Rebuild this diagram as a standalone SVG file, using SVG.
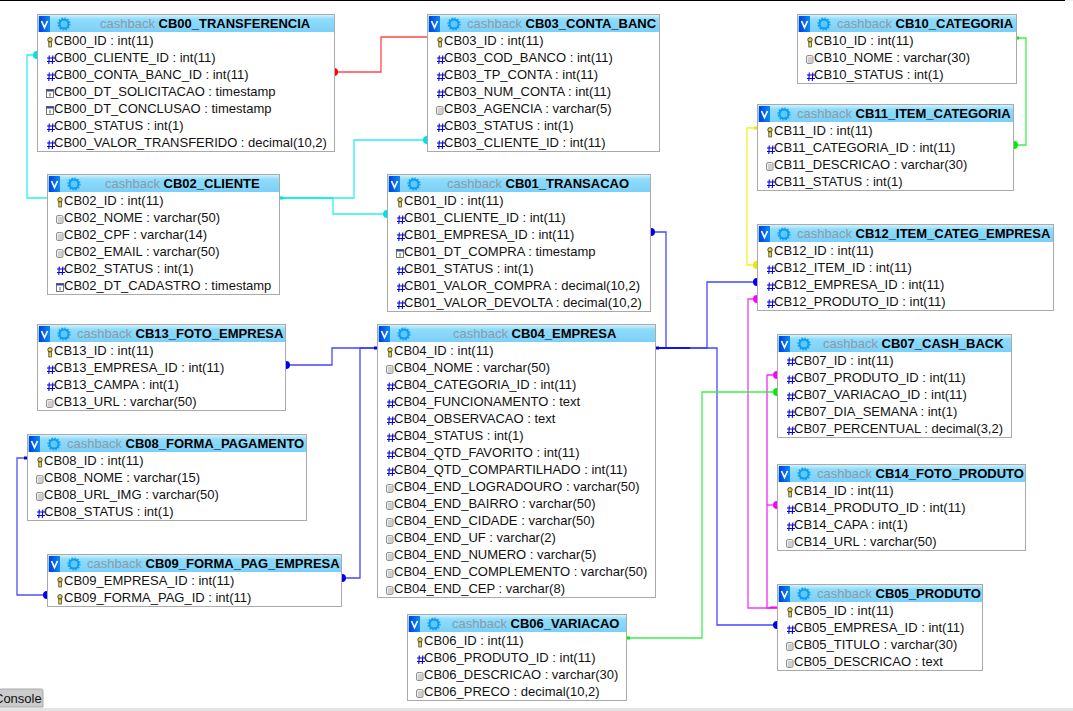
<svg xmlns="http://www.w3.org/2000/svg" xmlns:xlink="http://www.w3.org/1999/xlink" width="1073" height="711" viewBox="0 0 1073 711">
<style>
text{font-family:"Liberation Sans",Arial,sans-serif;font-size:13px;fill:#111}
.b{fill:#fff;stroke:#aaa;stroke-width:1}
.h{fill:url(#hg)}
.db{fill:#8d9aa5}
.tn{font-weight:bold;fill:#000}
.c{fill:none;stroke-width:1.3;opacity:.95}
</style>
<defs>
<linearGradient id="hg" x1="0" y1="0" x2="0" y2="1"><stop offset="0" stop-color="#d2f1fd"/><stop offset=".25" stop-color="#8fdcfb"/><stop offset="1" stop-color="#7bd0f8"/></linearGradient>
<linearGradient id="vg" x1="0" y1="0" x2="1" y2="0"><stop offset="0" stop-color="#0040e0"/><stop offset="1" stop-color="#0a8cf5"/></linearGradient>
<g id="v"><rect x="1" y="1" width="11" height="16" fill="url(#vg)"/><path d="M3.5 6l3 6.5 3-6.5" fill="none" stroke="#fff" stroke-width="1.7"/></g>
<g id="gear"><circle cx="26" cy="9" r="4.5" fill="#5cc8fb" stroke="#0a9cf0" stroke-width="2"/><circle cx="26" cy="9" r="6" fill="none" stroke="#0a9cf0" stroke-width="1.2" stroke-dasharray="1.6 1.5"/></g>
<g id="key"><circle cx="3" cy="2.8" r="2.2" fill="#e8d838" stroke="#333" stroke-width=".9"/><rect x="1.8" y="5" width="2.6" height="5" fill="#e8d838" stroke="#333" stroke-width=".7"/></g>
<g id="num"><path d="M2.3 0.5L1.8 9M5.8 0.5L5.3 9M0 3h8M0 6.5h8" fill="none" stroke="#0000e0" stroke-width="1.1"/></g>
<g id="str"><rect x=".5" y=".5" width="6.5" height="8" rx="1.5" fill="#eee" stroke="#777" stroke-width=".8"/><path d="M2 3h4M2 5h4M2 7h4" stroke="#888" stroke-width=".6"/></g>
<g id="dt"><rect x=".5" y=".5" width="7" height="8" fill="#fff" stroke="#555" stroke-width=".8"/><rect x=".5" y=".5" width="7" height="2" fill="#2a4a9a"/><path d="M4 4v3.5" stroke="#333" stroke-width=".8"/></g>
</defs>
<rect width="1073" height="711" fill="#fff"/>
<rect width="1065" height="1" fill="#000"/>
<rect x="1065" width="8" height="1" fill="#eee"/>
<g id="connectors">
<g class="c" stroke="#ff3030"><path class="c" stroke="#f33" d="M334 72H381V37H427"/></g>
<path class="c" stroke="#22eef0" d="M37 55H27V198H47"/>
<path class="c" stroke="#22eef0" d="M280 198H354V140H427"/>
<path class="c" stroke="#22eef0" d="M333 198V214H387"/>
<path class="c" stroke="#3c3cff" d="M286 365H332V348H377"/>
<path class="c" stroke="#3c3cff" d="M651 232H666V348H656"/>
<path class="c" stroke="#3c3cff" d="M656 348H707V282H757"/>
<path class="c" stroke="#3c3cff" d="M656 348H717V625H777"/>
<path class="c" stroke="#4848f0" d="M27 458H17V595H47"/>
<path class="c" stroke="#3c3cff" d="M342 578H360V348H377"/>
<path class="c" stroke="#f0f020" d="M757 128H747V265H757"/>
<path class="c" stroke="#30f040" d="M1016 38H1026V145H1014"/>
<path class="c" stroke="#f030f0" d="M757 299H748V608H777"/>
<path class="c" stroke="#f020f0" d="M777 375H767V608H777"/>
<path class="c" stroke="#f020f0" d="M777 505H767"/>
<path class="c" stroke="#30f040" d="M627 638H702V392H777"/>
<path d="M656 348H690" stroke="#00e" stroke-width="1.3"/>
<path d="M280 198H333" stroke="#0ee" stroke-width="1.3"/>
<g fill="#f00"><path d="M334 68a4 4 0 0 1 0 8z" /></g>
<g fill="#00e0e8"><path d="M427 136a4 4 0 0 0 0 8zM387 210a4 4 0 0 0 0 8zM37 51a4 4 0 0 0 0 8z"/><rect x="280" y="196.500" width="3" height="3"/></g>
<g fill="#00e"><path d="M651 228a4 4 0 0 1 0 8zM757 278a4 4 0 0 0 0 8zM777 621a4 4 0 0 0 0 8zM47 591a4 4 0 0 0 0 8zM286 361a4 4 0 0 1 0 8zM342 574a4 4 0 0 1 0 8z"/><rect x="656" y="346.500" width="3" height="3"/><rect x="377" y="346.500" width="-3" height="3"/><rect x="24" y="456.500" width="3" height="3"/><rect x="374" y="346.500" width="3" height="3"/></g>
<g fill="#e8e800"><path d="M757 261a4 4 0 0 0 0 8z"/><rect x="754" y="126.500" width="3" height="3"/></g>
<g fill="#0e0"><path d="M1014 141a4 4 0 0 1 0 8zM777 388a4 4 0 0 0 0 8z"/><rect x="1016" y="36.500" width="3" height="3"/><rect x="627" y="636.500" width="3" height="3"/></g>
<g fill="#f0f"><path d="M757 295a4 4 0 0 0 0 8zM777 371a4 4 0 0 0 0 8zM777 501a4 4 0 0 0 0 8z"/><rect x="770" y="606.500" width="7" height="1.500"/></g>
</g>

<g id="CB00"><rect class="b" x="37.500" y="14.500" width="297" height="137"/><rect class="h" x="38" y="15" width="296" height="17"/><use href="#v" x="38" y="15"/><use href="#gear" x="38" y="15"/><text x="100" y="28" class="db">cashback <tspan class="tn">CB00_TRANSFERENCIA</tspan></text>
<use href="#key" x="47" y="37"/><text x="54" y="45">CB00_ID : int(11)</text>
<use href="#num" x="47" y="55"/><text x="54" y="62">CB00_CLIENTE_ID : int(11)</text>
<use href="#num" x="47" y="72"/><text x="54" y="79">CB00_CONTA_BANC_ID : int(11)</text>
<use href="#dt" x="46" y="89"/><text x="54" y="96">CB00_DT_SOLICITACAO : timestamp</text>
<use href="#dt" x="46" y="106"/><text x="54" y="113">CB00_DT_CONCLUSAO : timestamp</text>
<use href="#num" x="47" y="123"/><text x="54" y="130">CB00_STATUS : int(1)</text>
<use href="#num" x="47" y="140"/><text x="54" y="147">CB00_VALOR_TRANSFERIDO : decimal(10,2)</text></g>

<g id="CB03"><rect class="b" x="427.500" y="14.500" width="232" height="137"/><rect class="h" x="428" y="15" width="231" height="17"/><use href="#v" x="428" y="15"/><use href="#gear" x="428" y="15"/><text x="467" y="28" class="db">cashback <tspan class="tn">CB03_CONTA_BANC</tspan></text>
<use href="#key" x="437" y="37"/><text x="444" y="45">CB03_ID : int(11)</text>
<use href="#num" x="437" y="55"/><text x="444" y="62">CB03_COD_BANCO : int(11)</text>
<use href="#num" x="437" y="72"/><text x="444" y="79">CB03_TP_CONTA : int(11)</text>
<use href="#num" x="437" y="89"/><text x="444" y="96">CB03_NUM_CONTA : int(11)</text>
<use href="#str" x="436" y="106"/><text x="444" y="113">CB03_AGENCIA : varchar(5)</text>
<use href="#num" x="437" y="123"/><text x="444" y="130">CB03_STATUS : int(1)</text>
<use href="#num" x="437" y="140"/><text x="444" y="147">CB03_CLIENTE_ID : int(11)</text></g>

<g id="CB10"><rect class="b" x="797.500" y="14.500" width="219" height="69"/><rect class="h" x="798" y="15" width="218" height="17"/><use href="#v" x="798" y="15"/><use href="#gear" x="798" y="15"/><text x="837" y="28" class="db">cashback <tspan class="tn">CB10_CATEGORIA</tspan></text>
<use href="#key" x="807" y="37"/><text x="814" y="45">CB10_ID : int(11)</text>
<use href="#str" x="806" y="55"/><text x="814" y="62">CB10_NOME : varchar(30)</text>
<use href="#num" x="807" y="72"/><text x="814" y="79">CB10_STATUS : int(1)</text></g>

<g id="CB11"><rect class="b" x="757.500" y="104.500" width="256" height="86"/><rect class="h" x="758" y="105" width="255" height="17"/><use href="#v" x="758" y="105"/><use href="#gear" x="758" y="105"/><text x="797" y="118" class="db">cashback <tspan class="tn">CB11_ITEM_CATEGORIA</tspan></text>
<use href="#key" x="767" y="127"/><text x="774" y="135">CB11_ID : int(11)</text>
<use href="#num" x="767" y="145"/><text x="774" y="152">CB11_CATEGORIA_ID : int(11)</text>
<use href="#str" x="766" y="162"/><text x="774" y="169">CB11_DESCRICAO : varchar(30)</text>
<use href="#num" x="767" y="179"/><text x="774" y="186">CB11_STATUS : int(1)</text></g>

<g id="CB02"><rect class="b" x="47.500" y="174.500" width="232" height="120"/><rect class="h" x="48" y="175" width="231" height="17"/><use href="#v" x="48" y="175"/><use href="#gear" x="48" y="175"/><text x="105" y="188" class="db">cashback <tspan class="tn">CB02_CLIENTE</tspan></text>
<use href="#key" x="57" y="197"/><text x="64" y="205">CB02_ID : int(11)</text>
<use href="#str" x="56" y="215"/><text x="64" y="222">CB02_NOME : varchar(50)</text>
<use href="#str" x="56" y="232"/><text x="64" y="239">CB02_CPF : varchar(14)</text>
<use href="#str" x="56" y="249"/><text x="64" y="256">CB02_EMAIL : varchar(50)</text>
<use href="#num" x="57" y="266"/><text x="64" y="273">CB02_STATUS : int(1)</text>
<use href="#dt" x="56" y="283"/><text x="64" y="290">CB02_DT_CADASTRO : timestamp</text></g>

<g id="CB01"><rect class="b" x="387.500" y="174.500" width="263" height="137"/><rect class="h" x="388" y="175" width="262" height="17"/><use href="#v" x="388" y="175"/><use href="#gear" x="388" y="175"/><text x="447" y="188" class="db">cashback <tspan class="tn">CB01_TRANSACAO</tspan></text>
<use href="#key" x="397" y="197"/><text x="404" y="205">CB01_ID : int(11)</text>
<use href="#num" x="397" y="215"/><text x="404" y="222">CB01_CLIENTE_ID : int(11)</text>
<use href="#num" x="397" y="232"/><text x="404" y="239">CB01_EMPRESA_ID : int(11)</text>
<use href="#dt" x="396" y="249"/><text x="404" y="256">CB01_DT_COMPRA : timestamp</text>
<use href="#num" x="397" y="266"/><text x="404" y="273">CB01_STATUS : int(1)</text>
<use href="#num" x="397" y="283"/><text x="404" y="290">CB01_VALOR_COMPRA : decimal(10,2)</text>
<use href="#num" x="397" y="300"/><text x="404" y="307">CB01_VALOR_DEVOLTA : decimal(10,2)</text></g>

<g id="CB12"><rect class="b" x="757.500" y="224.500" width="296" height="86"/><rect class="h" x="758" y="225" width="295" height="17"/><use href="#v" x="758" y="225"/><use href="#gear" x="758" y="225"/><text x="797" y="238" class="db">cashback <tspan class="tn">CB12_ITEM_CATEG_EMPRESA</tspan></text>
<use href="#key" x="767" y="247"/><text x="774" y="255">CB12_ID : int(11)</text>
<use href="#num" x="767" y="265"/><text x="774" y="272">CB12_ITEM_ID : int(11)</text>
<use href="#num" x="767" y="282"/><text x="774" y="289">CB12_EMPRESA_ID : int(11)</text>
<use href="#num" x="767" y="299"/><text x="774" y="306">CB12_PRODUTO_ID : int(11)</text></g>

<g id="CB13"><rect class="b" x="37.500" y="324.500" width="248" height="86"/><rect class="h" x="38" y="325" width="247" height="17"/><use href="#v" x="38" y="325"/><use href="#gear" x="38" y="325"/><text x="77" y="338" class="db">cashback <tspan class="tn">CB13_FOTO_EMPRESA</tspan></text>
<use href="#key" x="47" y="347"/><text x="54" y="355">CB13_ID : int(11)</text>
<use href="#num" x="47" y="365"/><text x="54" y="372">CB13_EMPRESA_ID : int(11)</text>
<use href="#num" x="47" y="382"/><text x="54" y="389">CB13_CAMPA : int(1)</text>
<use href="#str" x="46" y="399"/><text x="54" y="406">CB13_URL : varchar(50)</text></g>

<g id="CB04"><rect class="b" x="377.500" y="324.500" width="278" height="273"/><rect class="h" x="378" y="325" width="277" height="17"/><use href="#v" x="378" y="325"/><use href="#gear" x="378" y="325"/><text x="453" y="338" class="db">cashback <tspan class="tn">CB04_EMPRESA</tspan></text>
<use href="#key" x="387" y="347"/><text x="394" y="355">CB04_ID : int(11)</text>
<use href="#str" x="386" y="365"/><text x="394" y="372">CB04_NOME : varchar(50)</text>
<use href="#num" x="387" y="382"/><text x="394" y="389">CB04_CATEGORIA_ID : int(11)</text>
<use href="#num" x="387" y="399"/><text x="394" y="406">CB04_FUNCIONAMENTO : text</text>
<use href="#num" x="387" y="416"/><text x="394" y="423">CB04_OBSERVACAO : text</text>
<use href="#num" x="387" y="433"/><text x="394" y="440">CB04_STATUS : int(1)</text>
<use href="#num" x="387" y="450"/><text x="394" y="457">CB04_QTD_FAVORITO : int(11)</text>
<use href="#num" x="387" y="467"/><text x="394" y="474">CB04_QTD_COMPARTILHADO : int(11)</text>
<use href="#str" x="386" y="484"/><text x="394" y="491">CB04_END_LOGRADOURO : varchar(50)</text>
<use href="#str" x="386" y="501"/><text x="394" y="508">CB04_END_BAIRRO : varchar(50)</text>
<use href="#str" x="386" y="518"/><text x="394" y="525">CB04_END_CIDADE : varchar(50)</text>
<use href="#str" x="386" y="535"/><text x="394" y="542">CB04_END_UF : varchar(2)</text>
<use href="#str" x="386" y="552"/><text x="394" y="559">CB04_END_NUMERO : varchar(5)</text>
<use href="#str" x="386" y="569"/><text x="394" y="576">CB04_END_COMPLEMENTO : varchar(50)</text>
<use href="#str" x="386" y="586"/><text x="394" y="593">CB04_END_CEP : varchar(8)</text></g>

<g id="CB07"><rect class="b" x="777.500" y="334.500" width="234" height="103"/><rect class="h" x="778" y="335" width="233" height="17"/><use href="#v" x="778" y="335"/><use href="#gear" x="778" y="335"/><text x="823" y="348" class="db">cashback <tspan class="tn">CB07_CASH_BACK</tspan></text>
<use href="#num" x="787" y="357"/><text x="794" y="365">CB07_ID : int(11)</text>
<use href="#num" x="787" y="375"/><text x="794" y="382">CB07_PRODUTO_ID : int(11)</text>
<use href="#num" x="787" y="392"/><text x="794" y="399">CB07_VARIACAO_ID : int(11)</text>
<use href="#num" x="787" y="409"/><text x="794" y="416">CB07_DIA_SEMANA : int(1)</text>
<use href="#num" x="787" y="426"/><text x="794" y="433">CB07_PERCENTUAL : decimal(3,2)</text></g>

<g id="CB08"><rect class="b" x="27.500" y="434.500" width="279" height="86"/><rect class="h" x="28" y="435" width="278" height="17"/><use href="#v" x="28" y="435"/><use href="#gear" x="28" y="435"/><text x="67" y="448" class="db">cashback <tspan class="tn">CB08_FORMA_PAGAMENTO</tspan></text>
<use href="#key" x="37" y="457"/><text x="44" y="465">CB08_ID : int(11)</text>
<use href="#str" x="36" y="475"/><text x="44" y="482">CB08_NOME : varchar(15)</text>
<use href="#str" x="36" y="492"/><text x="44" y="499">CB08_URL_IMG : varchar(50)</text>
<use href="#num" x="37" y="509"/><text x="44" y="516">CB08_STATUS : int(1)</text></g>

<g id="CB14"><rect class="b" x="777.500" y="464.500" width="248" height="86"/><rect class="h" x="778" y="465" width="247" height="17"/><use href="#v" x="778" y="465"/><use href="#gear" x="778" y="465"/><text x="817" y="478" class="db">cashback <tspan class="tn">CB14_FOTO_PRODUTO</tspan></text>
<use href="#key" x="787" y="487"/><text x="794" y="495">CB14_ID : int(11)</text>
<use href="#num" x="787" y="505"/><text x="794" y="512">CB14_PRODUTO_ID : int(11)</text>
<use href="#num" x="787" y="522"/><text x="794" y="529">CB14_CAPA : int(1)</text>
<use href="#str" x="786" y="539"/><text x="794" y="546">CB14_URL : varchar(50)</text></g>

<g id="CB09"><rect class="b" x="47.500" y="554.500" width="294" height="52"/><rect class="h" x="48" y="555" width="293" height="17"/><use href="#v" x="48" y="555"/><use href="#gear" x="48" y="555"/><text x="87" y="568" class="db">cashback <tspan class="tn">CB09_FORMA_PAG_EMPRESA</tspan></text>
<use href="#key" x="57" y="577"/><text x="64" y="585">CB09_EMPRESA_ID : int(11)</text>
<use href="#key" x="57" y="594"/><text x="64" y="602">CB09_FORMA_PAG_ID : int(11)</text></g>

<g id="CB05"><rect class="b" x="777.500" y="584.500" width="205" height="86"/><rect class="h" x="778" y="585" width="204" height="17"/><use href="#v" x="778" y="585"/><use href="#gear" x="778" y="585"/><text x="817" y="598" class="db">cashback <tspan class="tn">CB05_PRODUTO</tspan></text>
<use href="#key" x="787" y="607"/><text x="794" y="615">CB05_ID : int(11)</text>
<use href="#num" x="787" y="625"/><text x="794" y="632">CB05_EMPRESA_ID : int(11)</text>
<use href="#str" x="786" y="642"/><text x="794" y="649">CB05_TITULO : varchar(30)</text>
<use href="#str" x="786" y="659"/><text x="794" y="666">CB05_DESCRICAO : text</text></g>

<g id="CB06"><rect class="b" x="407.500" y="614.500" width="219" height="86"/><rect class="h" x="408" y="615" width="218" height="17"/><use href="#v" x="408" y="615"/><use href="#gear" x="408" y="615"/><text x="452" y="628" class="db">cashback <tspan class="tn">CB06_VARIACAO</tspan></text>
<use href="#key" x="417" y="637"/><text x="424" y="645">CB06_ID : int(11)</text>
<use href="#num" x="417" y="655"/><text x="424" y="662">CB06_PRODUTO_ID : int(11)</text>
<use href="#str" x="416" y="672"/><text x="424" y="679">CB06_DESCRICAO : varchar(30)</text>
<use href="#str" x="416" y="689"/><text x="424" y="696">CB06_PRECO : decimal(10,2)</text></g>

<g id="console"><rect x="0" y="708" width="1073" height="3" fill="#e4e4e4"/><path d="M-2 707V692a3 3 0 0 1 3-3H41a2 2 0 0 1 2 2V707z" fill="#ccc" stroke="#aaa"/><text x="-6" y="703">Console</text></g>
</svg>
